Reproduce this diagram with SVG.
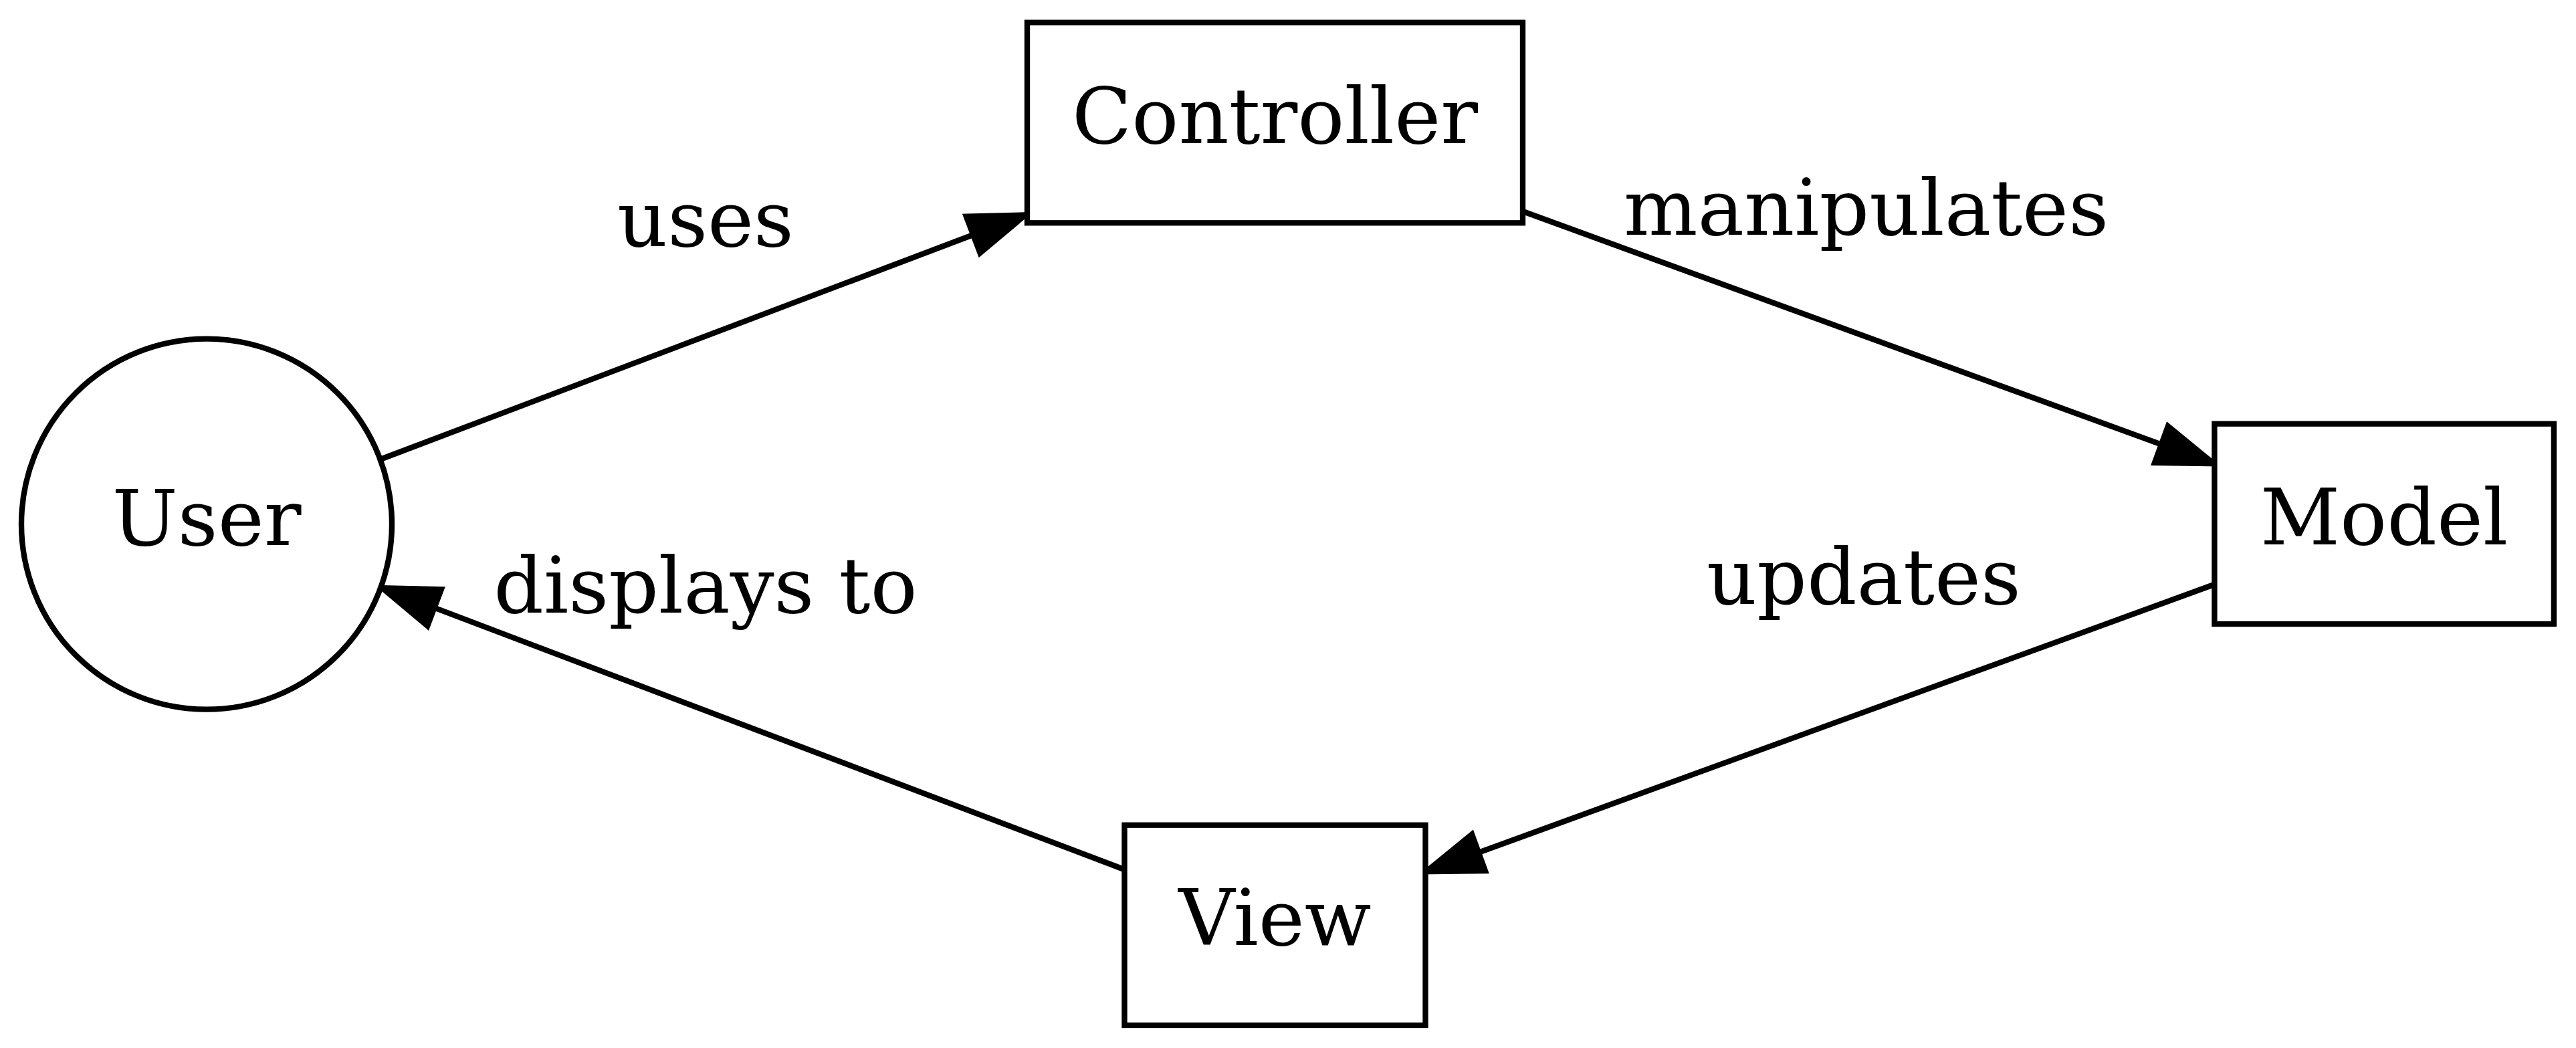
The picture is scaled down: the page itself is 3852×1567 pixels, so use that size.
<svg xmlns="http://www.w3.org/2000/svg" width="3852" height="1567" viewBox="0 0 3852 1567">
<style>
  .node { fill: #ffffff; stroke: #000000; stroke-width: 8.33; }
  .lbl { font-family: "DejaVu Serif", "Liberation Serif", serif; font-size: 116.67px; fill: #000000; text-anchor: middle; }
  .edge { fill: none; stroke: #000000; stroke-width: 8.33; marker-end: url(#arrow); }
</style>
<defs>
  <marker id="arrow" markerUnits="userSpaceOnUse" viewBox="-10 -40 105 80" markerWidth="105" markerHeight="80" refX="83.33" refY="0" orient="auto" overflow="visible">
    <path d="M0,-29.17 L83.33,0 L0,29.17 Z" fill="#000000" stroke="#000000" stroke-width="8.33"/>
  </marker>
</defs>
<rect x="0" y="0" width="3852" height="1567" fill="#ffffff"/>
<g id="connectors">
  <g id="edge-uses">
    <line class="edge" x1="571" y1="686" x2="1533.1" y2="321.5"/>
    <text class="lbl" x="1055" y="368">uses</text>
  </g>
  <g id="edge-manipulates">
    <line class="edge" x1="2277" y1="316" x2="3310.2" y2="693.2"/>
    <text class="lbl" x="2790.5" y="351">manipulates</text>
  </g>
  <g id="edge-updates">
    <line class="edge" x1="3311" y1="874" x2="2132.7" y2="1303.3"/>
    <text class="lbl" x="2787" y="903">updates</text>
  </g>
  <g id="edge-displays">
    <line class="edge" x1="1681" y1="1300" x2="571.6" y2="879.1"/>
    <text class="lbl" x="1055" y="916">displays to</text>
  </g>
</g>
<g id="node-user">
  <circle class="node" cx="309" cy="783.7" r="277"/>
  <text class="lbl" x="309" y="815">User</text>
</g>
<g id="node-controller">
  <rect class="node" x="1536" y="33.7" width="741" height="299.6"/>
  <text class="lbl" x="1906.5" y="214">Controller</text>
</g>
<g id="node-model">
  <rect class="node" x="3311.4" y="633.7" width="507.5" height="299.3"/>
  <text class="lbl" x="3565" y="814">Model</text>
</g>
<g id="node-view">
  <rect class="node" x="1681.5" y="1233.7" width="450" height="299.3"/>
  <text class="lbl" x="1906.5" y="1413">View</text>
</g>
</svg>
